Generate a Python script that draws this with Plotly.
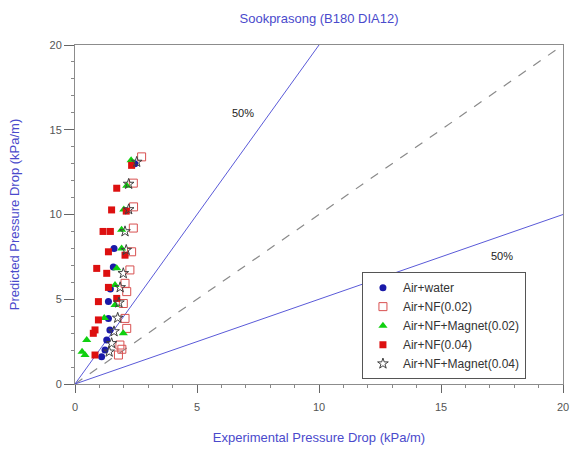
import plotly.graph_objects as go

# ---- data ----
water_x = [2.45, 1.57, 1.45, 1.37, 1.37, 1.43, 1.30, 1.23, 1.09, 1.60]
water_y = [13.0, 6.90, 5.60, 4.86, 3.87, 3.19, 2.60, 2.00, 1.61, 8.00]

nf02_x = [2.73, 2.39, 2.40, 2.39, 2.32, 2.25, 2.05, 2.12, 1.98, 2.05, 2.12, 1.84, 1.78, 1.92]
nf02_y = [13.4, 11.85, 10.45, 9.20, 7.80, 6.73, 5.94, 5.45, 4.75, 3.87, 3.28, 2.30, 1.71, 2.05]

nfm02_x = [2.12, 2.00, 1.91, 1.91, 1.71, 1.64, 1.64, 1.20, 0.48, 0.41, 0.29, 1.98, 2.30]
nfm02_y = [11.7, 10.3, 9.10, 8.00, 6.83, 5.84, 4.66, 3.90, 2.60, 1.71, 1.90, 3.00, 13.2]

nf04_x = [2.32, 1.71, 1.50, 1.15, 1.45, 1.37, 2.05, 0.89, 1.30, 1.37, 0.96, 1.71, 0.96, 0.82, 0.75, 0.82, 2.10]
nf04_y = [12.9, 11.55, 10.27, 9.00, 9.00, 7.80, 7.60, 6.82, 6.53, 5.70, 4.86, 5.05, 3.78, 3.19, 2.99, 1.71, 10.2]

nfm04_x = [2.53, 2.20, 2.20, 2.05, 2.10, 1.98, 1.85, 1.80, 1.75, 1.60, 1.50, 1.40]
nfm04_y = [13.1, 11.8, 10.3, 9.00, 7.90, 6.53, 5.70, 4.80, 3.90, 3.10, 2.40, 1.90]

diag_x = [0, 20]
diag_y = [0, 20]
upper_x = [0, 10]
upper_y = [0, 20]
lower_x = [0, 20]
lower_y = [0, 10]

label_x = [6.9, 17.5]
label_y = [16.0, 7.55]
label_text = ["50%", "50%"]

x_ticks = [0, 5, 10, 15, 20]
y_ticks = [0, 5, 10, 15, 20]

blue_txt = "#4a4acc"
line_blue = "#5a5ad8"

fig = go.Figure()

fig.add_trace(go.Scatter(x=diag_x, y=diag_y, mode="lines", showlegend=False,
                         line=dict(color="#8a8a8a", width=1.2, dash="dash"), hoverinfo="skip"))
fig.add_trace(go.Scatter(x=upper_x, y=upper_y, mode="lines", showlegend=False,
                         line=dict(color=line_blue, width=1), hoverinfo="skip"))
fig.add_trace(go.Scatter(x=lower_x, y=lower_y, mode="lines", showlegend=False,
                         line=dict(color=line_blue, width=1), hoverinfo="skip"))

fig.add_trace(go.Scatter(x=water_x, y=water_y, mode="markers", name="Air+water",
                         marker=dict(symbol="circle", size=7, color="#1a1aa8")))
fig.add_trace(go.Scatter(x=nf02_x, y=nf02_y, mode="markers", name="Air+NF(0.02)",
                         marker=dict(symbol="square-open", size=8, color="#d85050",
                                     line=dict(width=1))))
fig.add_trace(go.Scatter(x=nfm02_x, y=nfm02_y, mode="markers", name="Air+NF+Magnet(0.02)",
                         marker=dict(symbol="triangle-up", size=8, color="#10d010")))
fig.add_trace(go.Scatter(x=nf04_x, y=nf04_y, mode="markers", name="Air+NF(0.04)",
                         marker=dict(symbol="square", size=7, color="#dd1010")))
fig.add_trace(go.Scatter(x=nfm04_x, y=nfm04_y, mode="markers", name="Air+NF+Magnet(0.04)",
                         marker=dict(symbol="star-open", size=8, color="#404040",
                                     line=dict(width=1))))

for lx, ly, lt in zip(label_x, label_y, label_text):
    fig.add_annotation(x=lx, y=ly, text=lt, showarrow=False,
                       font=dict(size=11, color="#222222"))

axis_common = dict(
    showgrid=False, zeroline=False, showline=True, linecolor="#8c8c8c", linewidth=1,
    mirror=True, ticks="outside", tickcolor="#666666",
    tickfont=dict(size=11, color="#555555"),
    minor=dict(ticks="outside", ticklen=3, dtick=1, tickcolor="#888888"),
)

fig.update_xaxes(range=[0, 20], tickvals=x_ticks, ticklen=8, ticklabelstandoff=5,
                 title=dict(text="Experimental Pressure Drop (kPa/m)",
                            font=dict(size=13, color=blue_txt), standoff=20),
                 **axis_common)
fig.update_yaxes(range=[0, 20], tickvals=y_ticks, ticklen=10,
                 title=dict(text="Predicted Pressure Drop (kPa/m)",
                            font=dict(size=13, color=blue_txt), standoff=26),
                 **axis_common)

fig.update_layout(
    width=576, height=450,
    margin=dict(l=75, r=7, t=45, b=66),
    paper_bgcolor="white", plot_bgcolor="white",
    font=dict(family="Liberation Sans, Arial, sans-serif"),
    title=dict(text="Sookprasong (B180 DIA12)", x=0.5, xref="paper", xanchor="center",
               y=0.96, yanchor="middle", font=dict(size=13, color=blue_txt)),
    legend=dict(x=0.588, y=0.33, xanchor="left", yanchor="top",
                bordercolor="#555555", borderwidth=1, bgcolor="white",
                font=dict(size=12, color="#333333"), tracegroupgap=0,
                itemwidth=30),
)

fig.write_html("out.html")
